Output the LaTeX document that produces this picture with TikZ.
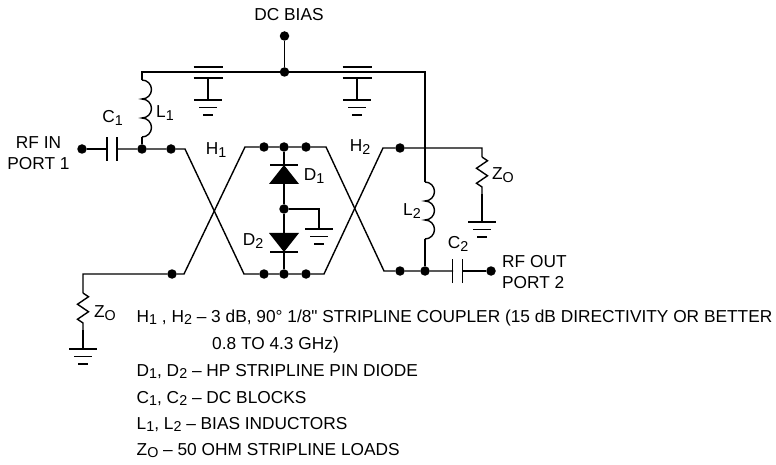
\documentclass[tikz,border=0pt]{standalone}
\usepackage{fontspec}
\setmainfont{Liberation Sans}
\newfontfamily\nomap{Liberation Sans}
\usetikzlibrary{decorations.pathmorphing}
\newcommand{\subs}[1]{\raisebox{-.3ex}{\fontsize{14.3}{14.3}\selectfont #1}}
\tikzset{
    %Define style for wires
    wire/.style={line width=1.4pt},
    %Define style for solder dots
    dot/.style={
           circle,
           fill=black,
           inner sep=0pt,
           minimum size=9.5pt},
    %Define style for labels
    lbl/.style={
           inner sep=0pt,
           font=\fontsize{17.3}{20.5}\selectfont},
    notes/.style={
           lbl,
           anchor=base west},
    resistor/.style={
           wire,
           decorate,
           decoration={zigzag,segment length=15pt,amplitude=5.5pt}},
    % Define symbols
    gnd/.pic={
           \draw[wire] (-14,0) -- (14,0);
           \draw[wire] (-9,-7.5) -- (9,-7.5);
           \draw[wire] (-5,-15) -- (5,-15);},
    bypass/.pic={
           \draw[wire] (-14.5,5) -- (14.5,5);
           \draw[wire] (-14.5,-6) -- (14.5,-6);
           \draw[wire] (0,-6) -- (0,-28);
           \pic at (0,-28) {gnd};},
    series/.pic={
           \draw[wire] (-5,-12) -- (-5,12);
           \draw[wire] (5,-12) -- (5,12);},
    diode/.pic={
           \draw[wire] (-14,0) -- (14,0);
           \fill (0,0) -- (15,-19) -- (-15,-19) -- cycle;},
    coil/.pic={
           \draw[wire] (0,0) arc[start angle=90,end angle=-90,radius=9.5]
                 arc[start angle=90,end angle=-90,radius=9.5]
                 arc[start angle=90,end angle=-90,radius=9.5];}
}
\begin{document}
\begin{tikzpicture}[x=1pt,y=1pt]
\useasboundingbox (0,0) rectangle (776,464);
% bias line
\node[dot](bias) at (284.5,428){};
\node[dot](busdot) at (284.5,392){};
\coordinate (busl) at (142,392);
\coordinate (busr) at (425,392);
\node[dot](in) at (82,315){};
\node[dot](injoint) at (142,315){};
\node[dot](intap) at (171,315){};
\node[dot](loadtap) at (172,190){};
\coordinate (c1l) at (107,315);
\coordinate (c1r) at (117,315);
\coordinate (l1top) at (142,384);
\coordinate (l1bot) at (142,327);
% first coupler
\coordinate (h1a) at (185,315);
\coordinate (h1b) at (184,190);
\coordinate (h1c) at (245,317);
\coordinate (h1d) at (244,190);
\node[dot](t1) at (264,317){};
\node[dot](t2) at (284,317){};
\node[dot](t3) at (306,317){};
\node[dot](b1) at (264,190){};
\node[dot](b2) at (284,190){};
\node[dot](b3) at (306,190){};
\node[dot](mid) at (284,255){};
\coordinate (gndwire) at (319,255);
\coordinate (gndtop) at (319,235);
% second coupler
\coordinate (h2a) at (326,317);
\coordinate (h2b) at (324,190);
\coordinate (h2c) at (383,316);
\coordinate (h2d) at (384,193);
\node[dot](o1) at (400,316){};
\node[dot](o2) at (400,193){};
\node[dot](outjoint) at (425,193){};
\node[dot](out) at (491,193){};
\coordinate (c2l) at (453,193);
\coordinate (c2r) at (462,193);
\coordinate (crossing) at (425,316);
\coordinate (l2top) at (425,282);
\coordinate (l2bot) at (425,225);
% loads
\coordinate (zrcorner) at (482,316);
\coordinate (zrtop) at (482,307);
\coordinate (zrbot) at (482,270);
\coordinate (zrgnd) at (482,242);
\coordinate (zlcorner) at (83,190);
\coordinate (zltop) at (83,171);
\coordinate (zlbot) at (83,134);
\coordinate (zlgnd) at (83,115);
\draw[wire] (bias) -- (busdot);
\draw[wire] (l1top) -- (busl) -- (busr) -- (l2top);
\draw[wire] (in) -- (c1l);
\draw[wire] (c1r) -- (injoint) -- (intap) -- (h1a) -- (h1d) -- (b1) -- (b2) -- (b3) -- (h2b) -- (h2c) -- (o1) -- (crossing) -- (zrcorner) -- (zrtop);
\draw[wire] (zlbot) -- (zlgnd);
\draw[resistor] (zltop) -- (zlbot);
\draw[wire] (zltop) -- (zlcorner) -- (loadtap) -- (h1b) -- (h1c) -- (t1) -- (t2) -- (t3) -- (h2a) -- (h2d) -- (o2) -- (outjoint) -- (c2l);
\draw[wire] (c2r) -- (out);
\draw[wire] (l1bot) -- (injoint);
\draw[wire] (l2bot) -- (outjoint);
\draw[wire] (t2) -- (mid) -- (b2);
\draw[wire] (mid) -- (gndwire) -- (gndtop);
\draw[resistor] (zrtop) -- (zrbot);
\draw[wire] (zrbot) -- (zrgnd);
\pic at (l1top) {coil};
\pic at (l2top) {coil};
\pic at (112,315) {series};
\pic at (457.5,193) {series};
\pic at (208,392) {bypass};
\pic at (357,392) {bypass};
\pic at (284,299) {diode};
\pic[rotate=180] at (284,212) {diode};
\pic at (gndtop) {gnd};
\pic at (zrgnd) {gnd};
\pic at (zlgnd) {gnd};
% labels
\node[lbl](biaslbl) at (289,449){DC BIAS};
\node[lbl,align=center](inlbl) at (38.5,311){RF IN\\PORT 1};
\node[lbl,align=left,anchor=west](outlbl) at (502,192){RF OUT\\PORT 2};
\node[lbl](c1lbl) at (112.5,346){C\subs{1}};
\node[lbl](l1lbl) at (165,351){L\subs{1}};
\node[lbl](h1lbl) at (216,314){H\subs{1}};
\node[lbl](d1lbl) at (314,288){D\subs{1}};
\node[lbl](h2lbl) at (360,317){H\subs{2}};
\node[lbl](d2lbl) at (253,223){D\subs{2}};
\node[lbl](l2lbl) at (412,253){L\subs{2}};
\node[lbl](c2lbl) at (458,220){C\subs{2}};
\node[lbl](zrlbl) at (503,289){Z\subs{O}};
\node[lbl](zllbl) at (105,151){Z\subs{O}};
% key
\node[notes](n1) at (136.5,142){H\subs{1} , H\subs{2} -- 3 dB, 90° 1/8{\nomap "} STRIPLINE COUPLER (15 dB DIRECTIVITY OR BETTER};
\node[notes](n2) at (212,115){0.8 TO 4.3 GHz)};
\node[notes](n3) at (136.5,88){D\subs{1}, D\subs{2} -- HP STRIPLINE PIN DIODE};
\node[notes](n4) at (136.5,61){C\subs{1}, C\subs{2} -- DC BLOCKS};
\node[notes](n5) at (136.5,35){L\subs{1}, L\subs{2} -- BIAS INDUCTORS};
\node[notes](n6) at (136.5,9){Z\subs{O} -- 50 OHM STRIPLINE LOADS};
\end{tikzpicture}
\end{document}
